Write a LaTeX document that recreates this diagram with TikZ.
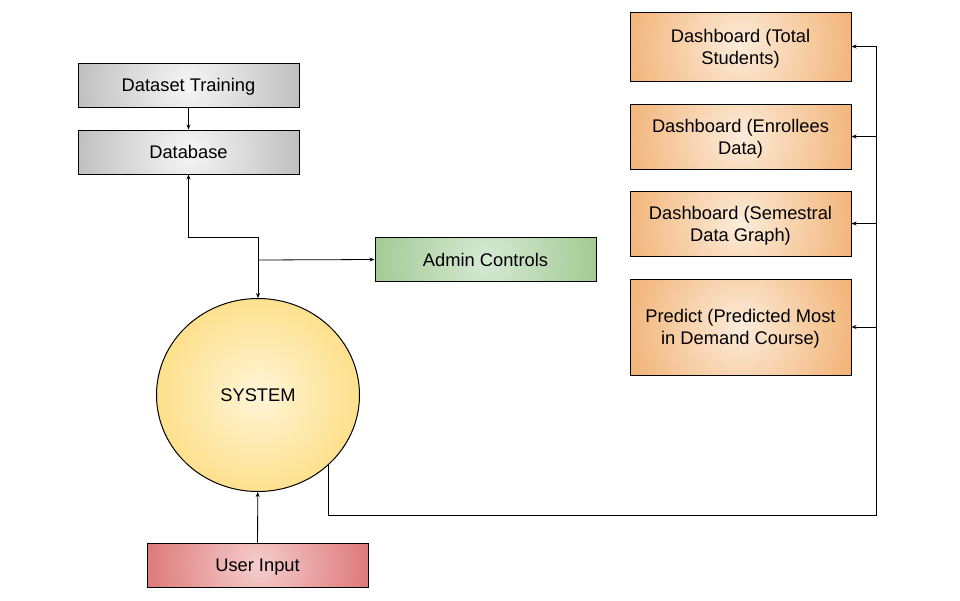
\documentclass[tikz,border=0pt]{standalone}
\usepackage{fontspec}
\setmainfont{Liberation Sans}
\usetikzlibrary{shapes.geometric,arrows.meta}

\definecolor{grayin}{RGB}{246,246,246}
\definecolor{grayout}{RGB}{178,178,178}
\definecolor{greenin}{RGB}{214,233,212}
\definecolor{greenout}{RGB}{150,195,132}
\definecolor{orangein}{RGB}{252,236,218}
\definecolor{orangeout}{RGB}{240,168,100}
\definecolor{redin}{RGB}{245,205,205}
\definecolor{redout}{RGB}{216,100,100}
\definecolor{yellowin}{RGB}{255,245,215}
\definecolor{yellowout}{RGB}{253,216,110}
\colorlet{glowin}{white}
\colorlet{glowout}{black}
\pgfdeclareradialshading[glowin,glowout]{glow}{\pgfpointorigin}{color(0bp)=(glowin); color(25bp)=(glowout); color(50bp)=(glowout)}

\begin{document}
\begin{tikzpicture}[x=1pt, y=-1pt, font=\fontsize{18.3}{22}\selectfont,
    glow/.style n args={3}{fill=#2, draw=black, line width=1pt, align=center, inner sep=0pt, text depth=0pt,
        path picture={\colorlet{glowin}{#1}\colorlet{glowout}{#2}
            \shade[shading=glow] (path picture bounding box.center) circle (#3);}},
    box/.style={rectangle, minimum width=221pt, minimum height=44pt},
    link/.style={draw=black, line width=0.8pt, -{Stealth[length=5pt,width=4pt]}}]
    \useasboundingbox (0,0) rectangle (960,600);

    % left column
    \node[box, glow={grayin}{grayout}{140pt}] (train) at (188.5,85) {Dataset Training};
    \node[box, glow={grayin}{grayout}{140pt}] (db) at (188.5,152) {Database};
    \node[box, glow={greenin}{greenout}{140pt}] (admin) at (485.5,259.5) {Admin Controls};
    \node[ellipse, minimum width=203pt, minimum height=193pt, glow={yellowin}{yellowout}{140pt}] (sys) at (258,395) {SYSTEM};
    \node[box, glow={redin}{redout}{140pt}] (user) at (257.5,565) {User Input};

    % right column
    \node[box, minimum height=69pt, glow={orangein}{orangeout}{140pt}] (dtotal) at (740.5,46.5) {Dashboard (Total\\Students)};
    \node[box, minimum height=65pt, glow={orangein}{orangeout}{140pt}] (denroll) at (740.5,136.5) {Dashboard (Enrollees\\Data)};
    \node[box, minimum height=65pt, glow={orangein}{orangeout}{140pt}] (dsem) at (740.5,223.5) {Dashboard (Semestral\\Data Graph)};
    \node[box, minimum height=96pt, glow={orangein}{orangeout}{140pt}] (dpred) at (740.5,327) {Predict (Predicted Most\\in Demand Course)};

    % connectors
    \coordinate (split) at (258,237);
    \coordinate (tap) at (258,260);
    \coordinate (bus) at (876,515);
    \draw[link] (train) -- (db);
    \draw[link] (split) -- (sys.north);
    \draw[link] (split) -| (db.south);
    \draw[link] (tap) -- (admin.west);
    \draw[link] (user) -- (sys);
    \draw[link] (sys.-45) |- (bus) |- (dtotal.east);
    \foreach \d in {denroll,dsem,dpred}
        \draw[link] (bus |- \d.east) -- (\d.east);
\end{tikzpicture}
\end{document}
